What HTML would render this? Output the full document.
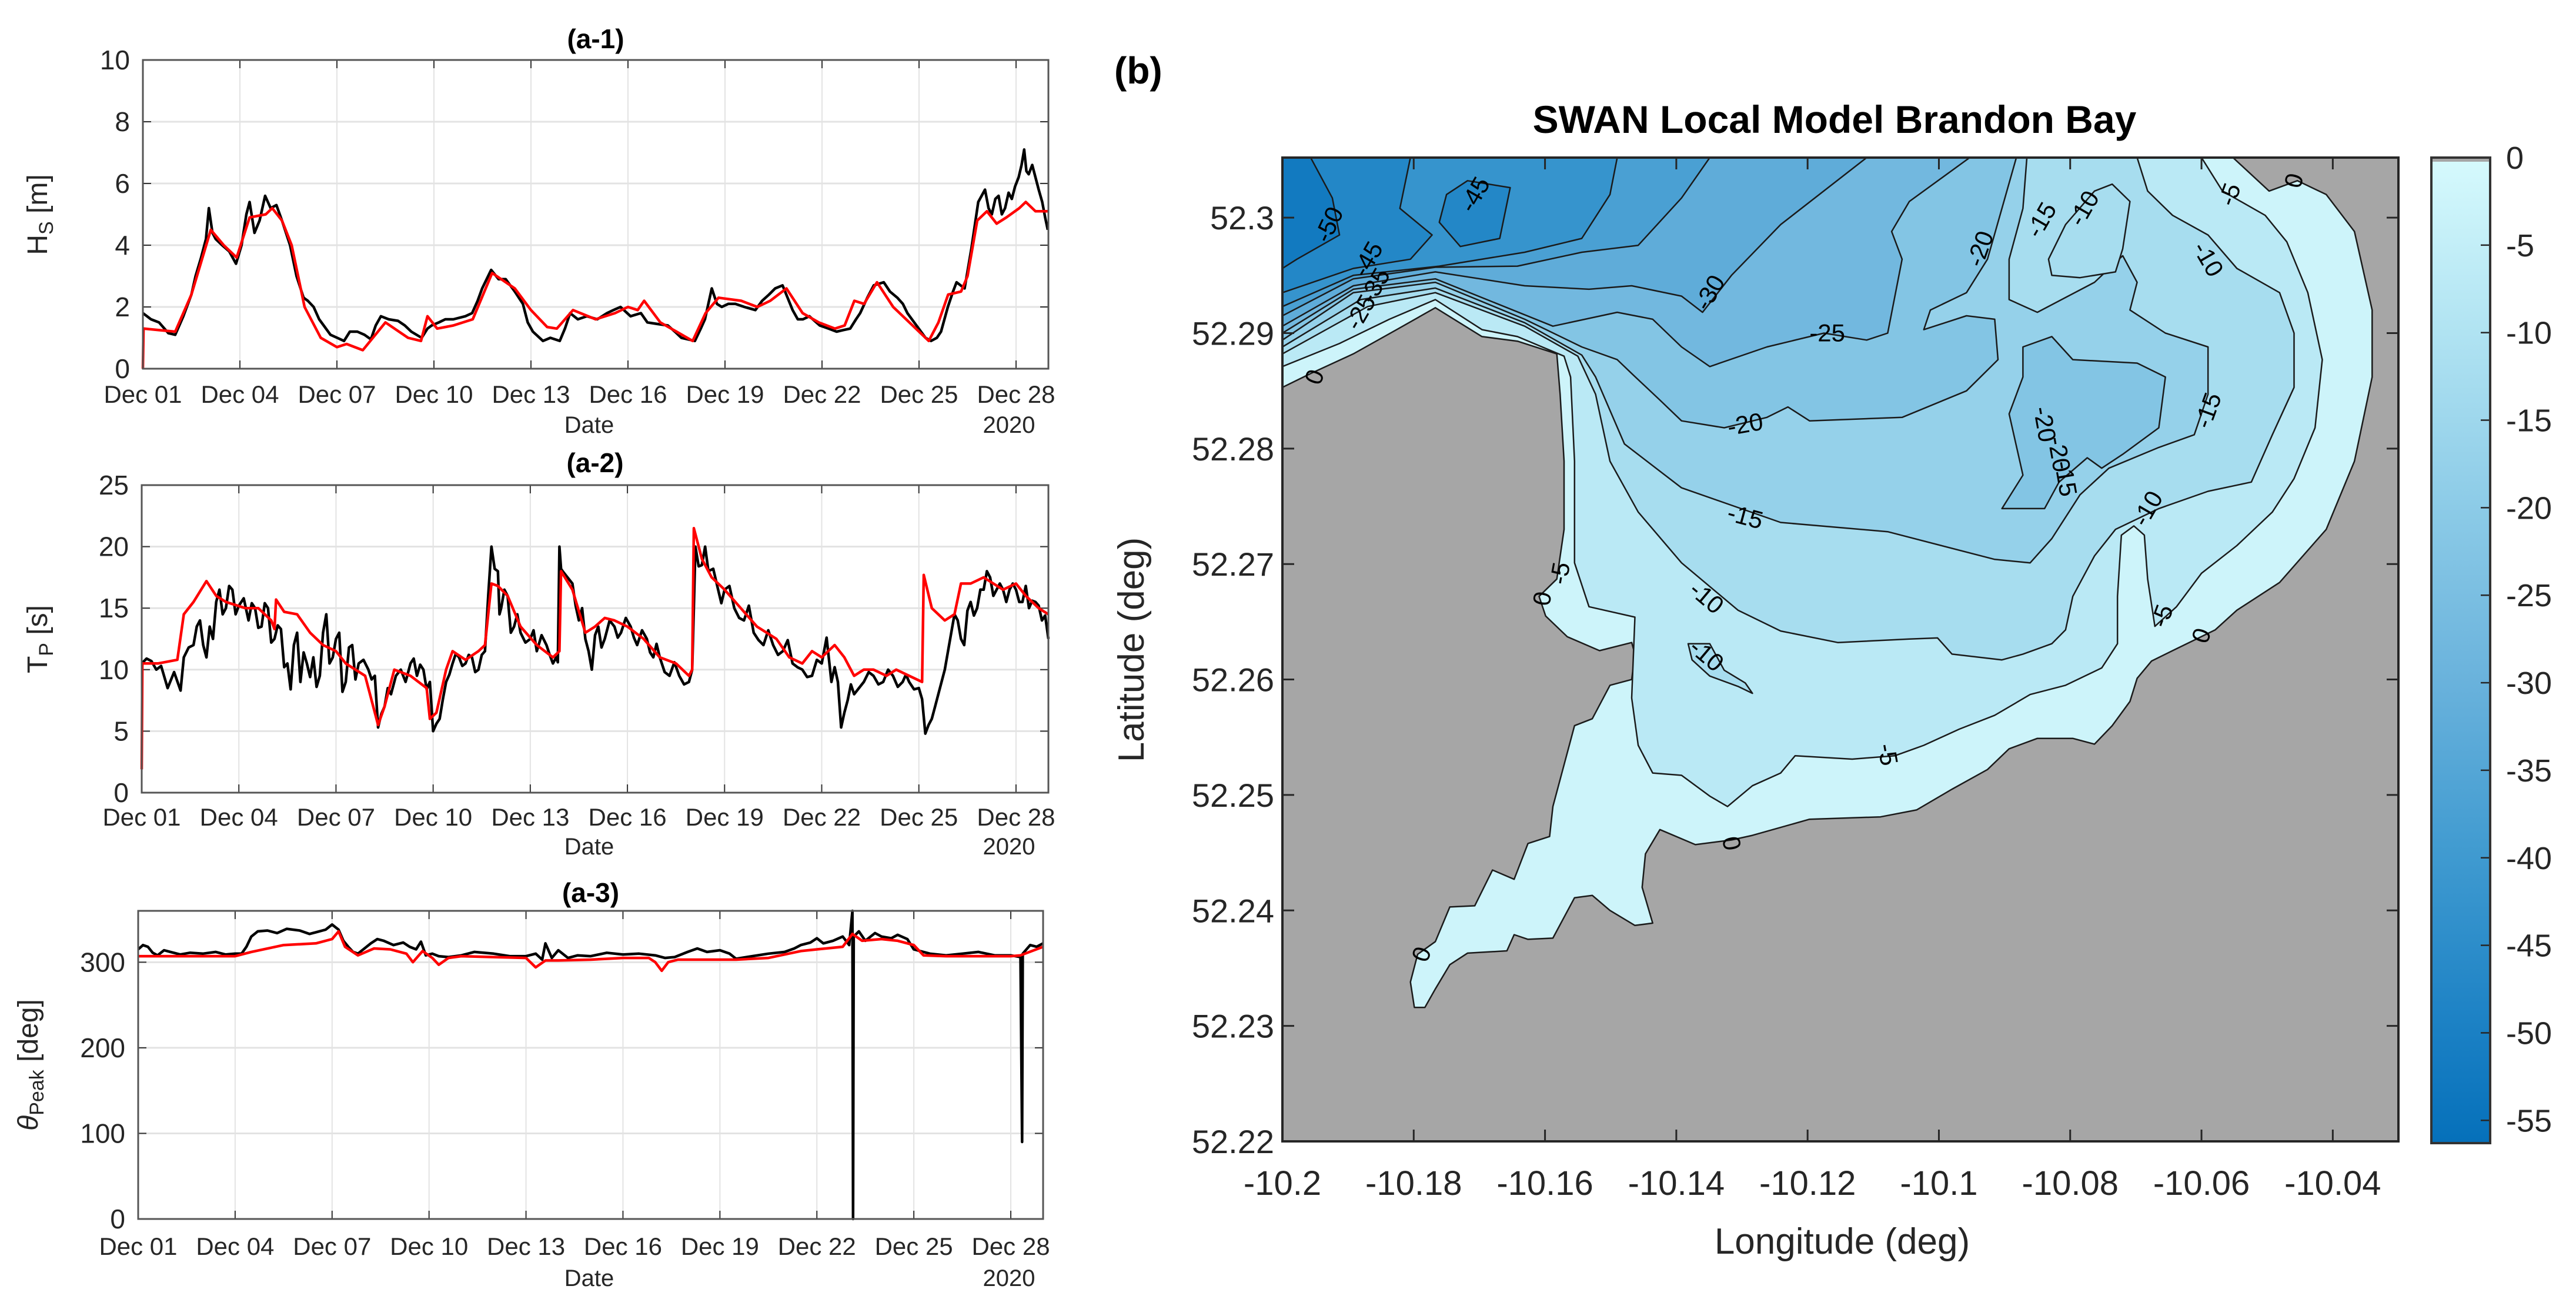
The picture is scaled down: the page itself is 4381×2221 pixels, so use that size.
<!DOCTYPE html>
<html><head><meta charset="utf-8"><title>Wave conditions and SWAN Brandon Bay bathymetry</title>
<style>
html,body{margin:0;padding:0;background:#fff;}
svg{display:block;font-family:"Liberation Sans",Arial,sans-serif;}
</style></head>
<body>
<svg id="fig" width="4381" height="2221" viewBox="0 0 4381 2221" xmlns="http://www.w3.org/2000/svg">
<defs>
<linearGradient id="cbgrad" x1="0" y1="0" x2="0" y2="1">
<stop offset="0" stop-color="#d6fafd"/>
<stop offset="0.178" stop-color="#b0e3f2"/>
<stop offset="0.355" stop-color="#8ccbe7"/>
<stop offset="0.533" stop-color="#69b2dc"/>
<stop offset="0.71" stop-color="#3f9ad0"/>
<stop offset="0.888" stop-color="#1a80c4"/>
<stop offset="1" stop-color="#0570ba"/>
</linearGradient>
<clipPath id="mapclip"><rect x="2181" y="268" width="1898" height="1673"/></clipPath>
</defs>
</svg>
<script>
// ---------- time-series data (day offset from Dec 01 00:00, value) ----------
const dateTicks = [0,3,6,9,12,15,18,21,24,27];
const dateLabels = ['Dec 01','Dec 04','Dec 07','Dec 10','Dec 13','Dec 16','Dec 19','Dec 22','Dec 25','Dec 28'];
const hsTicks = [0,2,4,6,8,10];
const tpTicks = [0,5,10,15,20,25];
const dirTicks = [0,100,200,300];

const hsObs = [[0,1.8],[0.25,1.6],[0.5,1.5],[0.79,1.15],[1.0,1.1],[1.25,1.7],[1.5,2.4],[1.63,3.0],[1.8,3.6],[1.95,4.2],[2.04,5.2],[2.15,4.4],[2.25,4.2],[2.45,4.0],[2.67,3.8],[2.88,3.4],[3.05,4.0],[3.2,5.0],[3.3,5.4],[3.45,4.4],[3.61,4.8],[3.78,5.6],[3.95,5.2],[4.13,5.3],[4.3,4.8],[4.55,4.0],[4.75,3.0],[4.97,2.3],[5.1,2.2],[5.28,2.0],[5.45,1.6],[5.59,1.4],[5.8,1.1],[6.01,1.0],[6.22,0.9],[6.4,1.2],[6.63,1.2],[6.85,1.1],[7.05,0.95],[7.2,1.4],[7.36,1.7],[7.6,1.6],[7.89,1.55],[8.1,1.4],[8.3,1.2],[8.62,1.0],[8.8,1.3],[8.93,1.4],[9.15,1.5],[9.35,1.6],[9.6,1.6],[9.97,1.7],[10.18,1.8],[10.35,2.2],[10.49,2.6],[10.77,3.2],[11.0,2.9],[11.22,2.9],[11.5,2.5],[11.75,2.1],[11.9,1.5],[12.06,1.2],[12.37,0.9],[12.6,1.0],[12.89,0.9],[13.05,1.3],[13.21,1.8],[13.45,1.6],[13.73,1.7],[14.05,1.6],[14.35,1.8],[14.55,1.9],[14.77,2.0],[15.08,1.7],[15.4,1.8],[15.6,1.5],[15.9,1.45],[16.23,1.4],[16.45,1.2],[16.65,1.0],[16.85,0.95],[17.07,0.9],[17.25,1.3],[17.38,1.6],[17.59,2.6],[17.75,2.1],[17.9,2.0],[18.1,2.1],[18.32,2.1],[18.6,2.0],[18.94,1.9],[19.15,2.2],[19.36,2.4],[19.55,2.6],[19.78,2.7],[20.09,1.9],[20.25,1.6],[20.41,1.6],[20.61,1.7],[20.93,1.4],[21.2,1.3],[21.45,1.2],[21.65,1.25],[21.87,1.3],[22.05,1.6],[22.18,1.8],[22.4,2.3],[22.6,2.7],[22.91,2.8],[23.1,2.5],[23.33,2.3],[23.5,2.1],[23.64,1.8],[23.85,1.5],[24.06,1.2],[24.2,1.0],[24.37,0.9],[24.55,1.0],[24.68,1.2],[24.89,2.0],[25.05,2.5],[25.16,2.8],[25.41,2.6],[25.62,3.9],[25.83,5.4],[26.04,5.8],[26.15,5.2],[26.25,5.0],[26.36,5.5],[26.46,5.6],[26.56,5.0],[26.66,5.2],[26.77,5.7],[26.87,5.5],[26.97,5.9],[27.08,6.2],[27.17,6.6],[27.25,7.1],[27.32,6.4],[27.39,6.3],[27.5,6.6],[27.6,6.2],[27.7,5.8],[27.81,5.4],[27.9,4.9],[27.98,4.5]];
const hsMod = [[0,0],[0.02,1.3],[0.5,1.25],[1.0,1.2],[1.5,2.4],[2.1,4.5],[2.5,4.0],[2.9,3.6],[3.3,4.9],[3.8,5.0],[4.0,5.2],[4.3,4.8],[4.6,4.0],[5.0,2.0],[5.5,1.0],[6.0,0.7],[6.3,0.8],[6.8,0.6],[7.5,1.5],[8.2,1.0],[8.6,0.9],[8.8,1.7],[9.1,1.3],[9.6,1.4],[10.2,1.6],[10.8,3.1],[11.5,2.6],[12.0,1.9],[12.5,1.35],[12.8,1.3],[13.3,1.9],[14.0,1.6],[14.6,1.8],[15.0,2.0],[15.3,1.9],[15.5,2.2],[16.0,1.5],[16.5,1.2],[17.0,0.9],[17.4,1.8],[17.8,2.3],[18.5,2.2],[19.0,2.0],[19.4,2.2],[19.9,2.6],[20.4,1.8],[20.9,1.5],[21.4,1.3],[21.7,1.4],[22.0,2.2],[22.3,2.1],[22.7,2.8],[23.2,2.0],[23.7,1.5],[24.3,0.9],[24.6,1.5],[24.9,2.4],[25.3,2.5],[25.5,3.0],[25.8,4.8],[26.1,5.1],[26.4,4.7],[26.7,4.9],[27.1,5.2],[27.3,5.4],[27.6,5.1],[28.0,5.1]];

const tpObs = [[0,10.5],[0.15,10.9],[0.3,10.7],[0.45,10.0],[0.6,10.3],[0.8,8.5],[1.0,9.8],[1.2,8.3],[1.3,11],[1.45,11.8],[1.6,12],[1.7,13.5],[1.8,14],[1.9,12],[2.0,11],[2.1,13.5],[2.2,12.5],[2.3,15.5],[2.4,16.5],[2.5,14.5],[2.6,15],[2.7,16.8],[2.8,16.5],[2.9,14.5],[3.0,15.2],[3.15,15.8],[3.3,14],[3.4,15.4],[3.5,15],[3.6,13.4],[3.7,13.5],[3.8,15.4],[3.9,15],[4.0,12.2],[4.1,12.5],[4.2,13.6],[4.3,13.3],[4.4,10.2],[4.5,10.5],[4.6,8.4],[4.7,12],[4.8,13],[4.9,9],[5.0,11.4],[5.1,10.5],[5.2,9.4],[5.3,11],[5.4,8.6],[5.5,9.5],[5.6,13],[5.7,14.5],[5.8,10.5],[5.9,11],[6.0,12.5],[6.1,13],[6.2,8.2],[6.3,9],[6.4,11.8],[6.5,12],[6.6,9.2],[6.7,10.5],[6.85,10.8],[7.0,10],[7.1,9.2],[7.2,9.5],[7.3,5.3],[7.4,6.4],[7.5,7],[7.6,8.5],[7.7,8],[7.85,9.5],[8.0,10],[8.15,9],[8.3,10.5],[8.4,10.9],[8.5,9.5],[8.6,10.4],[8.7,10],[8.8,8.4],[8.9,9],[9.0,5],[9.1,5.6],[9.2,6],[9.3,7.6],[9.4,9],[9.5,9.6],[9.6,10.5],[9.7,11.3],[9.8,11],[9.9,10.3],[10.0,10.5],[10.1,11.2],[10.2,11],[10.3,9.8],[10.4,10],[10.5,11.2],[10.6,11.5],[10.7,16],[10.8,20],[10.9,18.2],[11.0,18],[11.05,14.5],[11.1,15],[11.2,16.5],[11.3,16],[11.4,13],[11.5,13.5],[11.6,14.5],[11.7,13],[11.85,12.2],[12.0,12.5],[12.1,13.2],[12.2,11.5],[12.35,12.8],[12.5,12],[12.6,11.2],[12.7,10.5],[12.8,11],[12.85,10.6],[12.9,20],[12.95,18.2],[13.0,18],[13.15,17.5],[13.3,17],[13.4,15.2],[13.5,14],[13.6,15],[13.7,12.5],[13.8,11.5],[13.9,10],[14.0,12.8],[14.1,13.5],[14.2,11.8],[14.3,12.5],[14.45,14],[14.6,13.5],[14.7,12.6],[14.8,13],[14.95,14.2],[15.1,13.5],[15.2,12.6],[15.3,12],[15.45,13.2],[15.6,12.5],[15.7,11.4],[15.8,11],[15.9,12.1],[16.0,11],[16.15,9.8],[16.3,9.5],[16.45,10.6],[16.6,9.5],[16.75,8.8],[16.9,9],[17.0,10],[17.05,15],[17.1,20],[17.2,18.4],[17.3,18.5],[17.4,20],[17.5,18],[17.65,18.2],[17.8,16.5],[17.9,15.4],[18.0,16.5],[18.15,16.8],[18.3,15],[18.45,14.2],[18.6,14],[18.75,15.2],[18.9,13],[19.05,12.4],[19.2,12],[19.35,13.2],[19.5,12],[19.65,11.2],[19.8,11.5],[19.95,12.4],[20.1,10.5],[20.25,10.2],[20.4,10],[20.55,9.4],[20.7,9.5],[20.85,10.8],[21.0,10.5],[21.15,12.6],[21.3,9],[21.4,10.2],[21.5,9],[21.6,5.3],[21.7,6.5],[21.8,7.5],[21.9,8.8],[22.0,8],[22.15,8.5],[22.3,9],[22.45,9.8],[22.6,9.5],[22.75,8.8],[22.9,9],[23.05,10],[23.2,9.5],[23.35,8.6],[23.5,9],[23.6,9.6],[23.7,9],[23.85,8.4],[24.0,8.5],[24.1,7.6],[24.2,4.8],[24.3,5.5],[24.4,6],[24.5,7],[24.6,8],[24.7,9],[24.8,10],[24.9,11.5],[25.0,13],[25.1,14.5],[25.2,14],[25.3,12.5],[25.4,12],[25.5,14.8],[25.6,15.5],[25.7,14.4],[25.8,15],[25.9,16.5],[26.0,16.5],[26.1,18],[26.2,17.5],[26.3,16],[26.4,16.5],[26.5,17],[26.6,16.5],[26.7,15.5],[26.8,16.5],[26.9,17],[27.0,16.5],[27.1,15.5],[27.2,15.5],[27.3,16.8],[27.4,15],[27.5,15.6],[27.6,15.5],[27.7,15.2],[27.8,14],[27.9,14.4],[28.0,12.5]];
const tpMod = [[0,1.9],[0.02,10.5],[0.5,10.5],[1.1,10.8],[1.3,14.5],[1.6,15.5],[2.0,17.2],[2.3,16],[2.6,15.5],[3.2,15],[3.6,15],[4.0,14],[4.1,13.3],[4.15,15.7],[4.4,14.7],[4.8,14.5],[5.2,13],[5.6,12],[6.0,11.5],[6.3,10.5],[6.9,9.5],[7.3,5.5],[7.5,7],[7.8,10],[8.3,9.5],[8.8,8.5],[8.9,6],[9.1,6.5],[9.4,10],[9.6,11.5],[10.0,10.8],[10.4,11.5],[10.6,12],[10.8,17],[11.0,16.8],[11.3,16],[11.7,13.5],[12.2,12],[12.7,11],[12.9,11.5],[12.95,18],[13.3,16.5],[13.7,13],[14.0,13.5],[14.3,14.2],[14.6,14],[15.0,13.5],[15.5,12.5],[16.0,11],[16.5,10.5],[16.9,9.5],[17.0,10],[17.05,21.5],[17.3,19],[17.6,17.5],[18.0,16.5],[18.5,15],[19.0,13.5],[19.3,13],[19.6,12.5],[20.0,11],[20.4,10.5],[20.7,11.5],[21.0,11],[21.2,11.5],[21.4,12],[21.7,11],[22.0,9.5],[22.3,10],[22.6,10],[23.0,9.5],[23.3,10],[23.7,9.5],[24.1,9],[24.15,17.7],[24.4,15],[24.8,14],[25.1,14.5],[25.3,17],[25.6,17],[26.0,17.5],[26.3,17],[26.6,16.5],[27.0,17],[27.3,16],[27.7,15],[28.0,14.5]];

const dirObs = [[0,315],[0.15,320],[0.3,318],[0.45,311],[0.6,308],[0.8,314],[1.0,312],[1.3,309],[1.6,311],[2.0,310],[2.4,312],[2.7,309],[3.0,310],[3.2,310],[3.35,318],[3.5,330],[3.7,336],[4.0,337],[4.3,334],[4.6,339],[5.0,337],[5.3,333],[5.5,335],[5.8,338],[6.0,344],[6.2,338],[6.35,325],[6.5,318],[6.65,312],[6.8,310],[7.0,316],[7.2,322],[7.4,327],[7.6,325],[7.9,320],[8.2,323],[8.4,318],[8.6,315],[8.75,324],[8.9,308],[9.1,310],[9.3,307],[9.6,306],[10.0,308],[10.4,312],[11.0,310],[11.5,307],[12.0,307],[12.3,310],[12.5,303],[12.6,322],[12.8,305],[13.0,314],[13.3,305],[13.6,308],[14.0,307],[14.5,311],[15.0,309],[15.5,310],[16.0,308],[16.3,305],[16.6,306],[17.0,312],[17.3,316],[17.6,312],[18.0,314],[18.3,310],[18.5,304],[19.0,307],[19.5,310],[20.0,312],[20.3,316],[20.5,320],[20.8,323],[21.0,328],[21.2,322],[21.5,325],[21.8,330],[22.0,320],[22.1,360],[22.12,0],[22.14,330],[22.3,336],[22.5,325],[22.8,334],[23.0,330],[23.3,328],[23.5,332],[23.8,327],[24.0,315],[24.3,312],[24.5,310],[25.0,308],[25.5,310],[26.0,312],[26.5,308],[27.0,308],[27.3,306],[27.35,90],[27.37,310],[27.6,320],[27.8,318],[28.0,322]];
const dirMod = [[0,307],[3.0,307],[3.5,312],[4.5,320],[5.5,322],[6.0,327],[6.2,336],[6.4,318],[6.8,308],[7.3,316],[7.8,315],[8.3,310],[8.5,300],[8.8,313],[9.1,305],[9.3,297],[9.6,305],[10.0,307],[11.0,306],[12.0,305],[12.3,294],[12.6,302],[13.0,302],[14.0,303],[15.0,305],[15.8,305],[16.0,300],[16.2,290],[16.4,300],[16.7,303],[17.5,303],[18.5,303],[19.5,305],[20.5,313],[21.0,315],[21.8,318],[22.1,333],[22.4,325],[23.0,327],[23.5,325],[24.0,320],[24.3,308],[25.0,307],[26.0,307],[27.0,307],[27.3,308],[28.0,318]];

// ---------- map data (lon, lat) ----------
const lonTicks = [-10.2,-10.18,-10.16,-10.14,-10.12,-10.1,-10.08,-10.06,-10.04];
const lonLabels = ['-10.2','-10.18','-10.16','-10.14','-10.12','-10.1','-10.08','-10.06','-10.04'];
const latTicks = [52.22,52.23,52.24,52.25,52.26,52.27,52.28,52.29,52.3];
const latLabels = ['52.22','52.23','52.24','52.25','52.26','52.27','52.28','52.29','52.3'];
const cbTicks = [0,-5,-10,-15,-20,-25,-30,-35,-40,-45,-50,-55];

const water0 = [[-10.2,52.3052],[-10.0552,52.3052],[-10.0497,52.3023],[-10.0454,52.3032],[-10.0410,52.3020],[-10.0367,52.2988],[-10.0340,52.2920],[-10.0340,52.2862],[-10.0367,52.2789],[-10.0410,52.2730],[-10.0481,52.2684],[-10.0546,52.2660],[-10.0579,52.2643],[-10.0644,52.2625],[-10.0676,52.2616],[-10.0698,52.2601],[-10.0709,52.2581],[-10.0736,52.2560],[-10.0763,52.2544],[-10.0796,52.2549],[-10.0850,52.2549],[-10.0893,52.2540],[-10.0926,52.2522],[-10.0980,52.2505],[-10.1034,52.2487],[-10.1089,52.2481],[-10.1197,52.2479],[-10.1284,52.2465],[-10.1316,52.2461],[-10.1371,52.2457],[-10.1425,52.2470],[-10.1447,52.2449],[-10.1452,52.2420],[-10.1436,52.2389],[-10.1463,52.2387],[-10.1501,52.2400],[-10.1528,52.2413],[-10.1555,52.2411],[-10.1588,52.2376],[-10.1626,52.2375],[-10.1647,52.2379],[-10.1658,52.2365],[-10.1718,52.2363],[-10.1745,52.2353],[-10.1767,52.2332],[-10.1783,52.2316],[-10.1799,52.2316],[-10.1805,52.2338],[-10.1794,52.2362],[-10.1767,52.2373],[-10.1745,52.2403],[-10.1707,52.2404],[-10.1680,52.2435],[-10.1647,52.2427],[-10.1626,52.2458],[-10.1593,52.2464],[-10.1588,52.2490],[-10.1555,52.2560],[-10.1528,52.2566],[-10.1501,52.2595],[-10.1468,52.2600],[-10.1463,52.2622],[-10.1468,52.2632],[-10.1517,52.2625],[-10.1566,52.2637],[-10.1599,52.2655],[-10.1609,52.2672],[-10.1582,52.2687],[-10.1571,52.2730],[-10.1571,52.2789],[-10.1577,52.2847],[-10.1582,52.2882],[-10.1642,52.2893],[-10.1696,52.2897],[-10.1767,52.2922],[-10.1826,52.2903],[-10.1892,52.2882],[-10.1957,52.2865],[-10.2,52.2853]];
const depth5 = [[-10.2,52.3052],[-10.0600,52.3052],[-10.0568,52.3023],[-10.0503,52.3002],[-10.0470,52.2979],[-10.0438,52.2935],[-10.0416,52.2877],[-10.0427,52.2818],[-10.0459,52.2774],[-10.0492,52.2745],[-10.0546,52.2716],[-10.0600,52.2692],[-10.0638,52.2663],[-10.0671,52.2646],[-10.0682,52.2687],[-10.0687,52.2725],[-10.0703,52.2733],[-10.0722,52.2725],[-10.0728,52.2672],[-10.0728,52.2631],[-10.0752,52.2610],[-10.0807,52.2595],[-10.0861,52.2587],[-10.0915,52.2569],[-10.0969,52.2557],[-10.1023,52.2543],[-10.1067,52.2534],[-10.1132,52.2531],[-10.1219,52.2534],[-10.1241,52.2519],[-10.1284,52.2508],[-10.1322,52.2490],[-10.1349,52.2499],[-10.1392,52.2517],[-10.1436,52.2519],[-10.1458,52.2543],[-10.1468,52.2584],[-10.1463,52.2654],[-10.1533,52.2663],[-10.1555,52.2701],[-10.1555,52.2789],[-10.1561,52.2862],[-10.1571,52.2880],[-10.1642,52.2897],[-10.1696,52.2903],[-10.1767,52.2929],[-10.1837,52.2912],[-10.1913,52.2891],[-10.2,52.2871]];
const depth10 = [[-10.2,52.3052],[-10.0698,52.3052],[-10.0682,52.3023],[-10.0644,52.3002],[-10.0590,52.2985],[-10.0546,52.2956],[-10.0481,52.2935],[-10.0459,52.2900],[-10.0459,52.2853],[-10.0492,52.2812],[-10.0524,52.2771],[-10.0590,52.2763],[-10.0665,52.2748],[-10.0731,52.2730],[-10.0763,52.2707],[-10.0796,52.2672],[-10.0807,52.2643],[-10.0828,52.2631],[-10.0872,52.2622],[-10.0904,52.2617],[-10.0980,52.2622],[-10.1002,52.2636],[-10.1045,52.2635],[-10.1154,52.2632],[-10.1241,52.2642],[-10.1306,52.2660],[-10.1392,52.2701],[-10.1458,52.2745],[-10.1501,52.2789],[-10.1523,52.2847],[-10.1550,52.2880],[-10.1631,52.2906],[-10.1767,52.2935],[-10.1870,52.2923],[-10.2,52.2882]];
const depth10Patch = [[-10.1382,52.2631],[-10.1349,52.2631],[-10.1327,52.2608],[-10.1295,52.2597],[-10.1284,52.2588],[-10.1306,52.2594],[-10.1349,52.2603],[-10.1376,52.2617]];
const depth15 = [[-10.2,52.3052],[-10.0866,52.3052],[-10.0872,52.3008],[-10.0893,52.2964],[-10.0893,52.2929],[-10.0850,52.2918],[-10.0763,52.2944],[-10.0720,52.2967],[-10.0698,52.2944],[-10.0709,52.2920],[-10.0655,52.2900],[-10.0590,52.2888],[-10.0590,52.2847],[-10.0611,52.2812],[-10.0665,52.2801],[-10.0741,52.2783],[-10.0785,52.2760],[-10.0828,52.2722],[-10.0861,52.2701],[-10.0915,52.2704],[-10.1078,52.2728],[-10.1241,52.2736],[-10.1392,52.2766],[-10.1479,52.2804],[-10.1523,52.2862],[-10.1544,52.2881],[-10.1631,52.2909],[-10.1767,52.2939],[-10.1881,52.2929],[-10.2,52.2888]];
const shoal10 = [[-10.0828,52.2950],[-10.0833,52.2964],[-10.0807,52.2994],[-10.0763,52.3023],[-10.0736,52.3029],[-10.0709,52.3014],[-10.0720,52.2973],[-10.0731,52.2953],[-10.0785,52.2948]];
const depth20 = [[-10.2,52.3052],[-10.0882,52.3052],[-10.0904,52.3008],[-10.0926,52.2964],[-10.0958,52.2935],[-10.1013,52.2920],[-10.1023,52.2903],[-10.0958,52.2915],[-10.0915,52.2912],[-10.0910,52.2877],[-10.0958,52.2850],[-10.1056,52.2827],[-10.1197,52.2824],[-10.1230,52.2836],[-10.1262,52.2827],[-10.1327,52.2818],[-10.1392,52.2824],[-10.1425,52.2842],[-10.1468,52.2865],[-10.1490,52.2877],[-10.1544,52.2888],[-10.1631,52.2912],[-10.1767,52.2944],[-10.1892,52.2935],[-10.2,52.2894]];
const depth20East = [[-10.0872,52.2888],[-10.0828,52.2897],[-10.0796,52.2877],[-10.0698,52.2874],[-10.0655,52.2862],[-10.0665,52.2818],[-10.0720,52.2795],[-10.0752,52.2783],[-10.0774,52.2792],[-10.0817,52.2771],[-10.0839,52.2748],[-10.0904,52.2748],[-10.0872,52.2777],[-10.0893,52.2830],[-10.0872,52.2862]];
const depth25 = [[-10.2,52.3052],[-10.0953,52.3052],[-10.1045,52.3014],[-10.1072,52.2988],[-10.1056,52.2964],[-10.1078,52.2900],[-10.1110,52.2894],[-10.1175,52.2900],[-10.1262,52.2888],[-10.1349,52.2871],[-10.1392,52.2888],[-10.1436,52.2912],[-10.1490,52.2918],[-10.1588,52.2906],[-10.1767,52.2947],[-10.1892,52.2938],[-10.2,52.2900]];
const depth30 = [[-10.2,52.3052],[-10.1110,52.3052],[-10.1241,52.2994],[-10.1316,52.2950],[-10.1360,52.2918],[-10.1392,52.2932],[-10.1468,52.2941],[-10.1533,52.2938],[-10.1631,52.2941],[-10.1767,52.2953],[-10.1892,52.2941],[-10.2,52.2906]];
const depth35 = [[-10.2,52.3052],[-10.1349,52.3052],[-10.1392,52.3017],[-10.1458,52.2976],[-10.1544,52.2970],[-10.1642,52.2958],[-10.1767,52.2957],[-10.1892,52.2947],[-10.2,52.2915]];
const depth40 = [[-10.2,52.3052],[-10.1490,52.3052],[-10.1501,52.3020],[-10.1544,52.2982],[-10.1631,52.2970],[-10.1761,52.2958],[-10.1892,52.2950],[-10.2,52.2923]];
const depth45 = [[-10.2,52.3052],[-10.1805,52.3052],[-10.1821,52.3008],[-10.1772,52.2985],[-10.1805,52.2964],[-10.1892,52.2956],[-10.2,52.2935]];
const depth45Patch = [[-10.1750,52.3020],[-10.1718,52.3032],[-10.1653,52.3026],[-10.1669,52.2982],[-10.1729,52.2975],[-10.1761,52.2996]];
const depth50 = [[-10.2,52.3052],[-10.1957,52.3052],[-10.1924,52.3017],[-10.1913,52.2985],[-10.1978,52.2964],[-10.2,52.2956]];

const contourLevels = [0,-5,-10,-10,-15,-10,-20,-20,-25,-30,-35,-40,-45,-45,-50];
const contourPolys = [water0,depth5,depth10,depth10Patch,depth15,shoal10,depth20,depth20East,depth25,depth30,depth35,depth40,depth45,depth45Patch,depth50];

const clabelText = ['-45','-50','-30','-25','-20','-15','-10','-5','0','-10','-20','-20','-20','-15','-15','-10','-15','-10','-5','0','-5','0','-10','-5','0','0','0','-45','-35','-25'];
const clabelLon = [-10.1707,-10.1929,-10.1349,-10.1170,-10.0937,-10.0844,-10.0779,-10.0557,-10.0459,-10.0590,-10.1295,-10.0839,-10.0817,-10.0807,-10.0590,-10.0682,-10.1295,-10.1354,-10.0660,-10.0600,-10.1577,-10.1604,-10.1354,-10.1078,-10.1316,-10.1788,-10.1951,-10.1870,-10.1859,-10.1881];
const clabelLat = [52.3020,52.2994,52.2935,52.2900,52.2973,52.2998,52.3008,52.3020,52.3032,52.2964,52.2821,52.2821,52.2795,52.2774,52.2833,52.2748,52.2741,52.2671,52.2655,52.2638,52.2692,52.2670,52.2621,52.2535,52.2458,52.2362,52.2862,52.2964,52.2941,52.2918];
const clabelRot = [-60,-65,-60,0,-70,-60,-60,-70,-75,60,-10,80,80,80,-70,-60,15,40,-70,-70,-80,-80,40,80,80,-70,-70,-60,-60,-60];

// ---------- rendering ----------
const NS = 'http://www.w3.org/2000/svg';
const svg = document.getElementById('fig');
function mk(tag, attrs, parent){
  const e = document.createElementNS(NS, tag);
  for (const k in attrs) e.setAttribute(k, attrs[k]);
  (parent || svg).appendChild(e);
  return e;
}
function txt(str, attrs, parent){
  const e = mk('text', attrs, parent);
  e.textContent = str;
  return e;
}

const panels = [
  {key:'hs', L:243, R:1783, T:102, B:627, yMin:0, yMax:10, yTicks:hsTicks, obs:hsObs, mod:hsMod, title:'(a-1)', titleY:82, tickY:685, dateY:736},
  {key:'tp', L:241, R:1783, T:825, B:1348, yMin:0, yMax:25, yTicks:tpTicks, obs:tpObs, mod:tpMod, title:'(a-2)', titleY:803, tickY:1404, dateY:1453},
  {key:'dir', L:235, R:1774, T:1549, B:2073, yMin:0, yMax:360, yTicks:dirTicks, obs:dirObs, mod:dirMod, title:'(a-3)', titleY:1534, tickY:2134, dateY:2187}
];

panels.forEach(function(p){
  const g = mk('g', {});
  
  
  const x = function(d){ return p.L + d / 28 * (p.R - p.L); };
  const y = function(v){ return p.B - (v - p.yMin) / (p.yMax - p.yMin) * (p.B - p.T); };
  mk('rect', {x:p.L, y:p.T, width:p.R-p.L, height:p.B-p.T, fill:'#fff'}, g);
  dateTicks.forEach(function(d, i){
    const gl = mk('line', {x1:x(d), x2:x(d), y1:p.T, y2:p.B, stroke:'#e3e3e3', 'stroke-width':2}, g);
    
    
    mk('line', {x1:x(d), x2:x(d), y1:p.B, y2:p.B-14, stroke:'#333', 'stroke-width':2}, g);
    mk('line', {x1:x(d), x2:x(d), y1:p.T, y2:p.T+14, stroke:'#333', 'stroke-width':2}, g);
    const tl = txt(dateLabels[i], {x:x(d), y:p.tickY, 'font-size':42, fill:'#262626', 'text-anchor':'middle'}, g);
    
    
  });
  p.yTicks.forEach(function(v){
    const gl = mk('line', {x1:p.L, x2:p.R, y1:y(v), y2:y(v), stroke:'#e3e3e3', 'stroke-width':3}, g);
    
    
    mk('line', {x1:p.L, x2:p.L+14, y1:y(v), y2:y(v), stroke:'#333', 'stroke-width':2}, g);
    mk('line', {x1:p.R, x2:p.R-14, y1:y(v), y2:y(v), stroke:'#333', 'stroke-width':2}, g);
    const tl = txt(String(v), {x:p.L-22, y:y(v)+16, 'font-size':46, fill:'#262626', 'text-anchor':'end'}, g);
    
    
  });
  function path(series){
    return series.map(function(pt, i){ return (i ? 'L' : 'M') + x(pt[0]).toFixed(1) + ' ' + y(pt[1]).toFixed(1); }).join(' ');
  }
  const obsLine = mk('path', {d:path(p.obs), fill:'none', stroke:'#000', 'stroke-width':4.5, 'stroke-linejoin':'round'}, g);
  
  
  const modLine = mk('path', {d:path(p.mod), fill:'none', stroke:'#ff0000', 'stroke-width':4.5, 'stroke-linejoin':'round'}, g);
  
  
  const box = mk('rect', {x:p.L, y:p.T, width:p.R-p.L, height:p.B-p.T, fill:'none', stroke:'#555', 'stroke-width':3}, g);
  
  
  const t = txt(p.title, {x:(p.L+p.R)/2, y:p.titleY, 'font-size':46, 'font-weight':'bold', 'text-anchor':'middle', fill:'#000'}, g);
  
  
  const dl = txt('Date', {x:1002, y:p.dateY, 'font-size':40, fill:'#262626', 'text-anchor':'middle'}, g);
  
  
  const yr = txt('2020', {x:1716, y:p.dateY, 'font-size':40, fill:'#262626', 'text-anchor':'middle'}, g);
  
  
});

(function(){
  const a = txt('', {transform:'translate(80,365) rotate(-90)', 'font-size':48, fill:'#262626', 'text-anchor':'middle'});
  a.innerHTML = 'H<tspan font-size="34" dy="10">S</tspan><tspan dy="-10"> [m]</tspan>';
  
  
  const b = txt('', {transform:'translate(80,1087) rotate(-90)', 'font-size':48, fill:'#262626', 'text-anchor':'middle'});
  b.innerHTML = 'T<tspan font-size="34" dy="10">P</tspan><tspan dy="-10"> [s]</tspan>';
  
  
  const c = txt('', {transform:'translate(64,1811) rotate(-90)', 'font-size':48, fill:'#262626', 'text-anchor':'middle'});
  c.innerHTML = '<tspan font-style="italic">θ</tspan><tspan font-size="34" dy="10">Peak</tspan><tspan dy="-10"> [deg]</tspan>';
  
  
})();

// ---------- map ----------
const ML = 2181, MR = 4079, MT = 268, MB = 1941;
const lonMin = -10.2, lonMax = -10.03, latMin = 52.22, latMax = 52.3052;
function X(lon){ return ML + (lon - lonMin) / (lonMax - lonMin) * (MR - ML); }
function Y(lat){ return MB - (lat - latMin) / (latMax - latMin) * (MB - MT); }
const cbMin = -56.3;
const stops = [[0,[214,250,253]],[-10,[176,227,242]],[-20,[140,203,231]],[-30,[105,178,220]],[-40,[63,154,208]],[-50,[26,128,196]],[-56.3,[5,112,186]]];
function depthColor(v){
  for (let i = 0; i < stops.length - 1; i++){
    const a = stops[i], b = stops[i+1];
    if (v <= a[0] && v >= b[0]){
      const t = (a[0] - v) / (a[0] - b[0]);
      const c = a[1].map(function(ch, k){ return Math.round(ch + (b[1][k] - ch) * t); });
      return 'rgb(' + c.join(',') + ')';
    }
  }
  return 'rgb(5,112,186)';
}

const mapG = mk('g', {});


const land = mk('rect', {x:ML, y:MT, width:MR-ML, height:MB-MT, fill:'#a6a6a6'}, mapG);


const fills = mk('g', {'clip-path':'url(#mapclip)'}, mapG);
contourPolys.forEach(function(poly, i){
  const lev = contourLevels[i];
  const d = poly.map(function(pt, j){ return (j ? 'L' : 'M') + X(pt[0]).toFixed(1) + ' ' + Y(pt[1]).toFixed(1); }).join(' ') + ' Z';
  const p = mk('path', {d:d, fill:depthColor(lev - 2.5), stroke:'#1a1a1a', 'stroke-width':2.5, 'stroke-linejoin':'round'}, fills);
  
  
});
clabelText.forEach(function(s, i){
  const cx = X(clabelLon[i]), cy = Y(clabelLat[i]);
  const t = txt(s, {x:cx, y:cy+14, 'font-size':42, fill:'#000', 'text-anchor':'middle', transform:'rotate(' + clabelRot[i] + ' ' + cx + ' ' + cy + ')'}, fills);
  
  
});
lonTicks.forEach(function(v, i){
  const xx = X(v);
  mk('line', {x1:xx, x2:xx, y1:MB, y2:MB-20, stroke:'#262626', 'stroke-width':3}, mapG);
  mk('line', {x1:xx, x2:xx, y1:MT, y2:MT+20, stroke:'#262626', 'stroke-width':3}, mapG);
  const t = txt(lonLabels[i], {x:xx, y:2032, 'font-size':58, fill:'#262626', 'text-anchor':'middle'}, mapG);
  
  
});
latTicks.forEach(function(v, i){
  const yy = Y(v);
  mk('line', {x1:ML, x2:ML+20, y1:yy, y2:yy, stroke:'#262626', 'stroke-width':3}, mapG);
  mk('line', {x1:MR, x2:MR-20, y1:yy, y2:yy, stroke:'#262626', 'stroke-width':3}, mapG);
  const t = txt(latLabels[i], {x:ML-14, y:yy+20, 'font-size':56, fill:'#262626', 'text-anchor':'end'}, mapG);
  
  
});
const mbox = mk('rect', {x:ML, y:MT, width:MR-ML, height:MB-MT, fill:'none', stroke:'#262626', 'stroke-width':4}, mapG);



const lonT = txt('Longitude (deg)', {x:3133, y:2132, 'font-size':62, fill:'#262626', 'text-anchor':'middle'});


const latT = txt('Latitude (deg)', {x:0, y:0, 'font-size':62, fill:'#262626', 'text-anchor':'middle', transform:'translate(1945,1105) rotate(-90)'});


const mt = txt('SWAN Local Model Brandon Bay', {x:3120, y:226, 'font-size':66, 'font-weight':'bold', fill:'#000', 'text-anchor':'middle'});


const pb = txt('(b)', {x:1895, y:142, 'font-size':64, 'font-weight':'bold', fill:'#000'});



// colorbar
const CL = 4135, CR = 4235, CT = 268, CB = 1944;
function cbY(v){ return CT + (0 - v) / (0 - cbMin) * (CB - CT); }
const cbG = mk('g', {});


mk('rect', {x:CL, y:CT, width:CR-CL, height:CB-CT, fill:'url(#cbgrad)'}, cbG);
mk('rect', {x:CL, y:CT, width:CR-CL, height:7, fill:'#a6a6a6'}, cbG);
cbTicks.forEach(function(v){
  const yy = cbY(v);
  if (v !== 0) mk('line', {x1:CR, x2:CR-16, y1:yy, y2:yy, stroke:'#262626', 'stroke-width':2.5}, cbG);
  const t = txt(String(v), {x:4262, y:yy+19, 'font-size':54, fill:'#262626'}, cbG);
  
  
});
mk('rect', {x:CL, y:CT, width:CR-CL, height:CB-CT, fill:'none', stroke:'#333', 'stroke-width':4}, cbG);
</script>
</body></html>
